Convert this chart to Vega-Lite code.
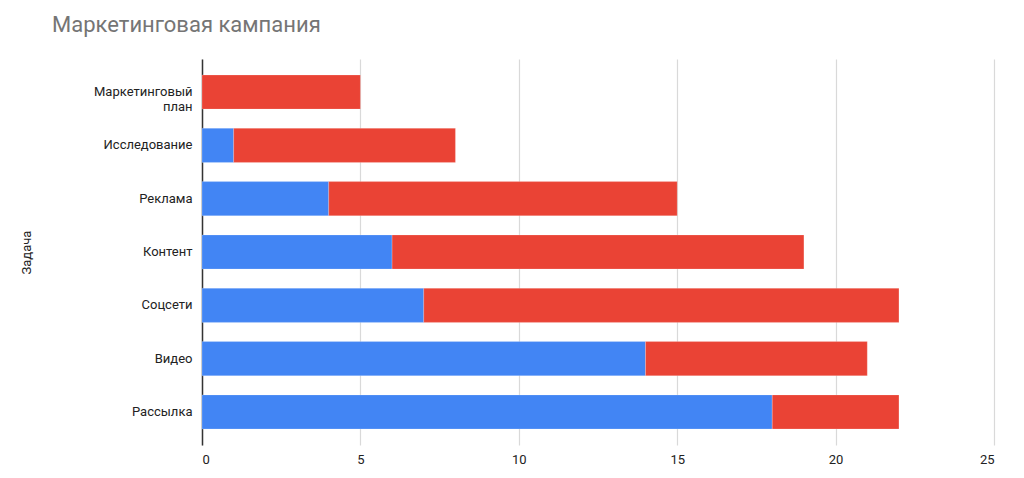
{
  "$schema": "https://vega.github.io/schema/vega-lite/v6.json",
  "width": 1024,
  "height": 478,
  "autosize": {"type": "fit", "contains": "padding"},
  "padding": {"left": 20, "top": 14, "right": 30, "bottom": 12},
  "background": "white",
  "title": {
    "text": "Маркетинговая кампания",
    "anchor": "start",
    "frame": "group",
    "offset": 22,
    "font": "Roboto",
    "fontSize": 22,
    "fontWeight": "normal",
    "color": "#757575",
    "dx": -150
  },
  "data": {
    "values": [
      {"task": "Маркетинговый план", "series": "Срок от начала", "value": 0, "ord": 0},
      {"task": "Маркетинговый план", "series": "Длительность", "value": 5, "ord": 1},
      {"task": "Исследование", "series": "Срок от начала", "value": 1, "ord": 0},
      {"task": "Исследование", "series": "Длительность", "value": 7, "ord": 1},
      {"task": "Реклама", "series": "Срок от начала", "value": 4, "ord": 0},
      {"task": "Реклама", "series": "Длительность", "value": 11, "ord": 1},
      {"task": "Контент", "series": "Срок от начала", "value": 6, "ord": 0},
      {"task": "Контент", "series": "Длительность", "value": 13, "ord": 1},
      {"task": "Соцсети", "series": "Срок от начала", "value": 7, "ord": 0},
      {"task": "Соцсети", "series": "Длительность", "value": 15, "ord": 1},
      {"task": "Видео", "series": "Срок от начала", "value": 14, "ord": 0},
      {"task": "Видео", "series": "Длительность", "value": 7, "ord": 1},
      {"task": "Рассылка", "series": "Срок от начала", "value": 18, "ord": 0},
      {"task": "Рассылка", "series": "Длительность", "value": 4, "ord": 1}
    ]
  },
  "mark": {"type": "bar", "stroke": "white", "strokeWidth": 0.5, "strokeOpacity": 0.4},
  "encoding": {
    "y": {
      "field": "task",
      "type": "nominal",
      "sort": null,
      "scale": {"paddingInner": 0.36, "paddingOuter": 0.3},
      "axis": {
        "title": "Задача",
        "titleFont": "Roboto",
        "titleFontSize": 13,
        "titleFontWeight": "normal",
        "titleColor": "#222222",
        "titlePadding": 60,
        "labelFont": "Roboto",
        "labelFontSize": 13,
        "labelColor": "#222222",
        "labelPadding": 10,
        "labelLimit": 200,
        "labelLineHeight": 15,
        "labelExpr": "datum.label == 'Маркетинговый план' ? ['Маркетинговый', 'план'] : datum.label",
        "ticks": false,
        "domainColor": "#333333",
        "domainWidth": 1.5,
        "grid": false
      }
    },
    "x": {
      "field": "value",
      "type": "quantitative",
      "stack": "zero",
      "scale": {"domain": [0, 25], "nice": false},
      "axis": {
        "title": null,
        "values": [0, 5, 10, 15, 20, 25],
        "labelFont": "Roboto",
        "labelFontSize": 13,
        "labelColor": "#222222",
        "labelPadding": 8,
        "ticks": false,
        "domain": false,
        "grid": true,
        "gridColor": "#d9d9d9",
        "gridWidth": 1.2
      }
    },
    "color": {
      "field": "series",
      "type": "nominal",
      "scale": {"domain": ["Срок от начала", "Длительность"], "range": ["#4285F4", "#EA4335"]},
      "legend": null
    },
    "order": {"field": "ord", "type": "quantitative"}
  },
  "config": {"view": {"stroke": null}}
}
